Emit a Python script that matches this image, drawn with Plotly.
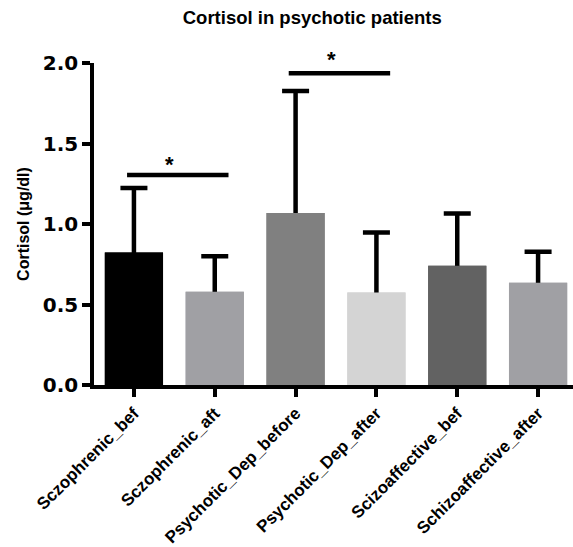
import plotly.graph_objects as go

# Group labels and measured cortisol (mean, SD) per group
groups = ["Sczophrenic_bef", "Sczophrenic_aft", "Psychotic_Dep_before",
          "Psychotic_Dep_after", "Scizoaffective_bef", "Schizoaffective_after"]
means = [0.823, 0.579, 1.069, 0.575, 0.740, 0.635]
sds = [0.401, 0.221, 0.757, 0.372, 0.325, 0.192]
bar_colors = ["#000000", "#a0a0a4", "#808080", "#d4d4d4", "#626262", "#a0a0a4"]

# Significance brackets: (start group, end group, bar height, star height)
sig_pairs = [(0, 1, 1.305, 1.391), (2, 3, 1.937, 2.041)]

y_ticks = [0.0, 0.5, 1.0, 1.5, 2.0]
y_max = 2.0

xs = list(range(len(groups)))
# the lower end of each whisker is tucked inside its bar so only the upper cap shows
tuck = [0.04] * len(groups)

fig = go.Figure()
# whiskers (drawn first, then covered by the bars of the second trace)
fig.add_trace(go.Bar(
    x=xs, y=means, width=0.72,
    marker=dict(color=bar_colors, line=dict(width=0)),
    error_y=dict(type="data", symmetric=False, array=sds, arrayminus=tuck,
                 color="black", thickness=4.5, width=13.5),
    showlegend=False, hoverinfo="skip",
))
fig.add_trace(go.Bar(
    x=xs, y=means, width=0.72,
    marker=dict(color=bar_colors, line=dict(width=0)),
    showlegend=False,
))

for a, b, h, sh in sig_pairs:
    fig.add_shape(type="line", xref="x", yref="y",
                  x0=a - 0.085, x1=b + 0.17, y0=h, y1=h,
                  line=dict(color="black", width=4.5))
    fig.add_annotation(x=(a + b) / 2 - 0.06, y=sh / y_max, xref="x", yref="paper",
                       text="<b>*</b>", showarrow=False, yanchor="middle",
                       yshift=-3,
                       font=dict(family="Liberation Sans", size=22, color="black"))

fig.update_layout(
    width=573, height=547,
    margin=dict(l=94, r=0, t=63, b=162),
    plot_bgcolor="white", paper_bgcolor="white",
    barmode="overlay",
    title=dict(text="<b>Cortisol in psychotic patients</b>",
               x=0.545, xanchor="center", y=1 - 18 / 547, yanchor="middle",
               font=dict(family="Liberation Sans", size=18.5, color="black")),
)

fig.update_xaxes(
    range=[-0.494, 5.432], automargin=False,
    tickmode="array", tickvals=xs, ticktext=groups,
    tickangle=-45,
    ticks="outside", ticklen=8, tickwidth=3.5, tickcolor="black",
    showline=True, linecolor="black", linewidth=3.5,
    showgrid=False, zeroline=False,
    tickfont=dict(family="Liberation Sans", size=17, color="black", weight="bold"),
)

fig.update_yaxes(
    range=[0, y_max], automargin=False,
    tickmode="array", tickvals=y_ticks, ticktext=[f"{v:.1f}" for v in y_ticks],
    ticks="outside", ticklen=8, tickwidth=3.5, tickcolor="black",
    showline=True, linecolor="black", linewidth=3.5,
    showgrid=False, zeroline=False,
    tickfont=dict(family="DejaVu Sans", size=20, color="black", weight="bold"),
    title=dict(text="<b>Cortisol (μg/dl)</b>", standoff=10,
               font=dict(family="Liberation Sans", size=16, color="black")),
)

fig.write_html("out.html")
